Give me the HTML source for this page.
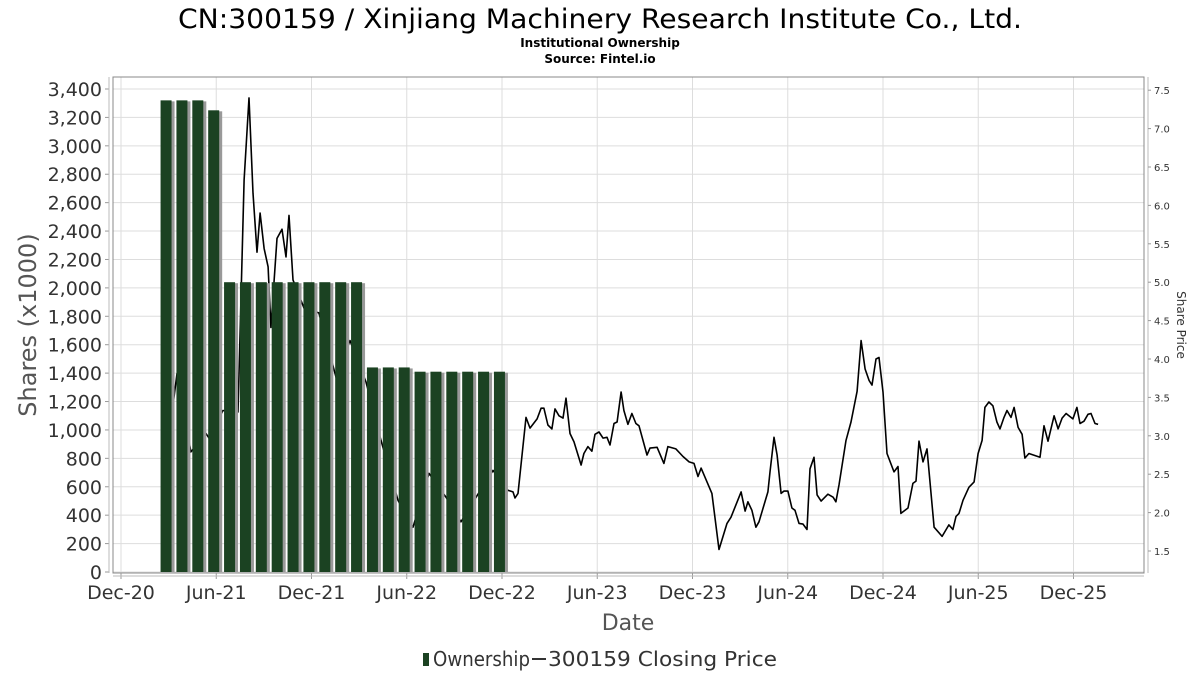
<!DOCTYPE html>
<html><head><meta charset="utf-8"><style>
body{margin:0;background:#fff;}
svg{display:block;font-family:"DejaVu Sans","Liberation Sans",sans-serif;}
</style></head><body>
<svg id="chart" width="1200" height="675" viewBox="0 0 1200 675">
<text x="178" y="28" font-size="27" fill="#000" textLength="844" lengthAdjust="spacingAndGlyphs">CN:300159 / Xinjiang Machinery Research Institute Co., Ltd.</text>
<text x="600" y="47" text-anchor="middle" font-size="12" font-weight="bold" fill="#000">Institutional Ownership</text>
<text x="600" y="63" text-anchor="middle" font-size="12" font-weight="bold" fill="#000">Source: Fintel.io</text>
<g id="grid"></g>
<g id="bars"></g>
<g id="line"></g>
<rect x="113" y="77" width="1031" height="496" fill="none" stroke="#888" stroke-width="1"/>
<g id="axes"></g>
<text transform="translate(36,325) rotate(-90)" text-anchor="middle" font-size="24" fill="#555">Shares (x1000)</text>
<text transform="translate(1177,325) rotate(90)" text-anchor="middle" font-size="12" fill="#333">Share Price</text>
<text x="628" y="630" text-anchor="middle" font-size="22" fill="#555">Date</text>
<g>
<rect x="423" y="653" width="6" height="13" fill="#1b4222"/>
<text x="433" y="666" font-size="20" fill="#333" textLength="97" lengthAdjust="spacingAndGlyphs">Ownership</text>
<line x1="532" y1="659" x2="546" y2="659" stroke="#333" stroke-width="2"/>
<text x="548" y="666" font-size="20" fill="#333" textLength="229" lengthAdjust="spacingAndGlyphs">300159 Closing Price</text>
</g>
</svg>
<script>
const barMonths=["2021-03","2021-04","2021-05","2021-06","2021-07","2021-08","2021-09","2021-10","2021-11","2021-12","2022-01","2022-02","2022-03","2022-04","2022-05","2022-06","2022-07","2022-08","2022-09","2022-10","2022-11","2022-12"];
const barValues=[3320,3320,3320,3250,2040,2040,2040,2040,2040,2040,2040,2040,2040,1440,1440,1440,1410,1410,1410,1410,1410,1410];
const priceDates=[2021.190,2021.211,2021.284,2021.363,2021.379,2021.452,2021.531,2021.563,2021.589,2021.610,2021.631,2021.647,2021.668,2021.689,2021.704,2021.736,2021.762,2021.783,2021.799,2021.820,2021.878,2021.956,2022.046,2022.119,2022.203,2022.282,2022.371,2022.450,2022.534,2022.623,2022.702,2022.781,2022.870,2022.948,2022.975,2022.985,2023.001,
2023.043,2023.064,2023.101,2023.122,2023.137,2023.158,2023.179,2023.195,2023.216,2023.237,2023.253,2023.274,2023.295,2023.332,2023.347,2023.368,2023.389,2023.405,2023.426,2023.447,2023.468,2023.484,2023.505,2023.521,2023.542,2023.557,2023.578,2023.599,2023.620,2023.636,2023.678,2023.694,2023.731,2023.767,2023.788,2023.830,2023.867,2023.899,2023.925,2023.946,2023.962,2024.019,2024.056,2024.098,2024.119,2024.172,2024.193,2024.208,2024.229,2024.250,2024.266,2024.313,2024.324,2024.345,2024.361,2024.382,2024.397,2024.418,2024.439,2024.455,2024.476,2024.497,2024.518,2024.534,2024.555,2024.571,2024.592,2024.628,2024.655,2024.670,2024.686,2024.723,2024.749,2024.781,2024.802,2024.823,2024.844,2024.859,2024.880,2024.896,2024.917,2024.938,2024.975,2024.996,2025.011,2025.048,2025.074,2025.090,2025.106,2025.127,2025.148,2025.185,2025.227,2025.263,2025.284,2025.300,2025.316,2025.337,2025.368,2025.395,2025.416,2025.437,2025.452,2025.473,2025.494,2025.515,2025.531,2025.552,2025.568,2025.589,2025.605,2025.626,2025.647,2025.662,2025.683,2025.741,2025.762,2025.783,2025.815,2025.836,2025.857,2025.878,2025.914,2025.935,2025.951,2025.972,2025.993,2026.009,2026.030,2026.046];
const priceValues=[3.40,3.81,2.79,3.03,2.97,3.33,3.31,6.33,7.40,6.16,5.39,5.90,5.44,5.20,4.41,5.57,5.69,5.33,5.87,5.03,4.66,4.60,3.76,4.24,3.70,2.94,2.16,1.81,2.51,2.20,1.88,2.20,2.55,2.29,2.27,2.19,2.25,
3.24,3.10,3.22,3.36,3.36,3.14,3.09,3.35,3.26,3.23,3.49,3.03,2.92,2.62,2.77,2.86,2.80,3.02,3.05,2.97,2.98,2.88,3.16,3.18,3.57,3.33,3.15,3.29,3.16,3.13,2.75,2.84,2.85,2.64,2.86,2.83,2.73,2.66,2.64,2.47,2.58,2.25,1.52,1.86,1.94,2.27,2.02,2.14,2.03,1.81,1.88,2.27,2.53,2.98,2.75,2.25,2.28,2.28,2.06,2.03,1.86,1.85,1.78,2.57,2.72,2.23,2.15,2.24,2.20,2.14,2.36,2.94,3.18,3.58,4.24,3.87,3.72,3.66,4.00,4.02,3.57,2.77,2.53,2.60,1.99,2.06,2.38,2.41,2.93,2.66,2.83,1.81,1.69,1.84,1.78,1.95,1.99,2.16,2.33,2.40,2.77,2.94,3.37,3.44,3.39,3.18,3.09,3.24,3.33,3.24,3.37,3.11,3.02,2.71,2.77,2.72,3.13,2.93,3.26,3.09,3.23,3.29,3.22,3.37,3.16,3.19,3.28,3.29,3.16,3.15];
const leftTicks=[0,200,400,600,800,1000,1200,1400,1600,1800,2000,2200,2400,2600,2800,3000,3200,3400];
const rightTicks=[1.5,2.0,2.5,3.0,3.5,4.0,4.5,5.0,5.5,6.0,6.5,7.0,7.5];
const xTickLabels=["Dec-20","Jun-21","Dec-21","Jun-22","Dec-22","Jun-23","Dec-23","Jun-24","Dec-24","Jun-25","Dec-25"];
const xTickDates=[2020.917,2021.417,2021.917,2022.417,2022.917,2023.417,2023.917,2024.417,2024.917,2025.417,2025.917];

const NS="http://www.w3.org/2000/svg";
const xS=d=>121+(d-2020.917)*190.5;
const yL=v=>572-v*(483/3400);
const yR=p=>551-(p-1.5)*76.8;
function mk(tag,attrs,parent){const e=document.createElementNS(NS,tag);for(const k in attrs)e.setAttribute(k,attrs[k]);parent.appendChild(e);return e;}
const grid=document.getElementById('grid'),axes=document.getElementById('axes'),bars=document.getElementById('bars'),line=document.getElementById('line');
leftTicks.forEach(v=>{const y=yL(v);
 const g=mk('line',{x1:113,x2:1144,y1:y,y2:y,stroke:'#ddd','stroke-width':1},grid);
 
 
 const tk=mk('line',{x1:105,x2:109,y1:y,y2:y,stroke:'#999'},axes);
 
 
 const t=mk('text',{x:102,y:y+7,'text-anchor':'end','font-size':19,fill:'#333'},axes);
 t.textContent=v.toLocaleString('en-US');
 
 
});
xTickDates.forEach((d,i)=>{const x=xS(d);
 const g=mk('line',{x1:x,x2:x,y1:77,y2:573,stroke:'#ddd','stroke-width':1},grid);
 
 
 const tk=mk('line',{x1:x,x2:x,y1:573,y2:579,stroke:'#999'},axes);
 
 
 const t=mk('text',{x:x,y:599,'text-anchor':'middle','font-size':19,fill:'#333'},axes);
 t.textContent=xTickLabels[i];
 
 
});
const la=mk('line',{x1:109,x2:109,y1:77,y2:573,stroke:'#bbb'},axes);


const ra=mk('line',{x1:1148,x2:1148,y1:77,y2:573,stroke:'#bbb'},axes);


const ba=mk('line',{x1:113,x2:1144,y1:576,y2:576,stroke:'#bbb'},axes);


rightTicks.forEach(p=>{const y=yR(p);
 const tk=mk('line',{x1:1148,x2:1151,y1:y,y2:y,stroke:'#999'},axes);
 
 
 const t=mk('text',{x:1154,y:y+4,'font-size':10,fill:'#333'},axes);
 t.textContent=p.toFixed(1);
 
 
});
barMonths.forEach((m,i)=>{const [yy,mm]=m.split('-').map(Number);const d=yy+(mm-1)/12;
 const x=xS(d)-8, y=yL(barValues[i]), h=572-y;
 const s=mk('rect',{x:x+2,y:y+1,width:12,height:h-1,fill:'#999'},bars);
 
 
 const r=mk('rect',{x:x,y:y,width:11,height:h,fill:'#1b4222'},bars);
 
 
});
const pts=priceDates.map((d,i)=>xS(d).toFixed(1)+','+yR(priceValues[i]).toFixed(1)).join(' ');
const pl=mk('polyline',{points:pts,fill:'none',stroke:'#000','stroke-width':1.6,'stroke-linejoin':'round'},line);


const svg=document.getElementById('chart');svg.insertBefore(line,bars);
</script>
</body></html>
